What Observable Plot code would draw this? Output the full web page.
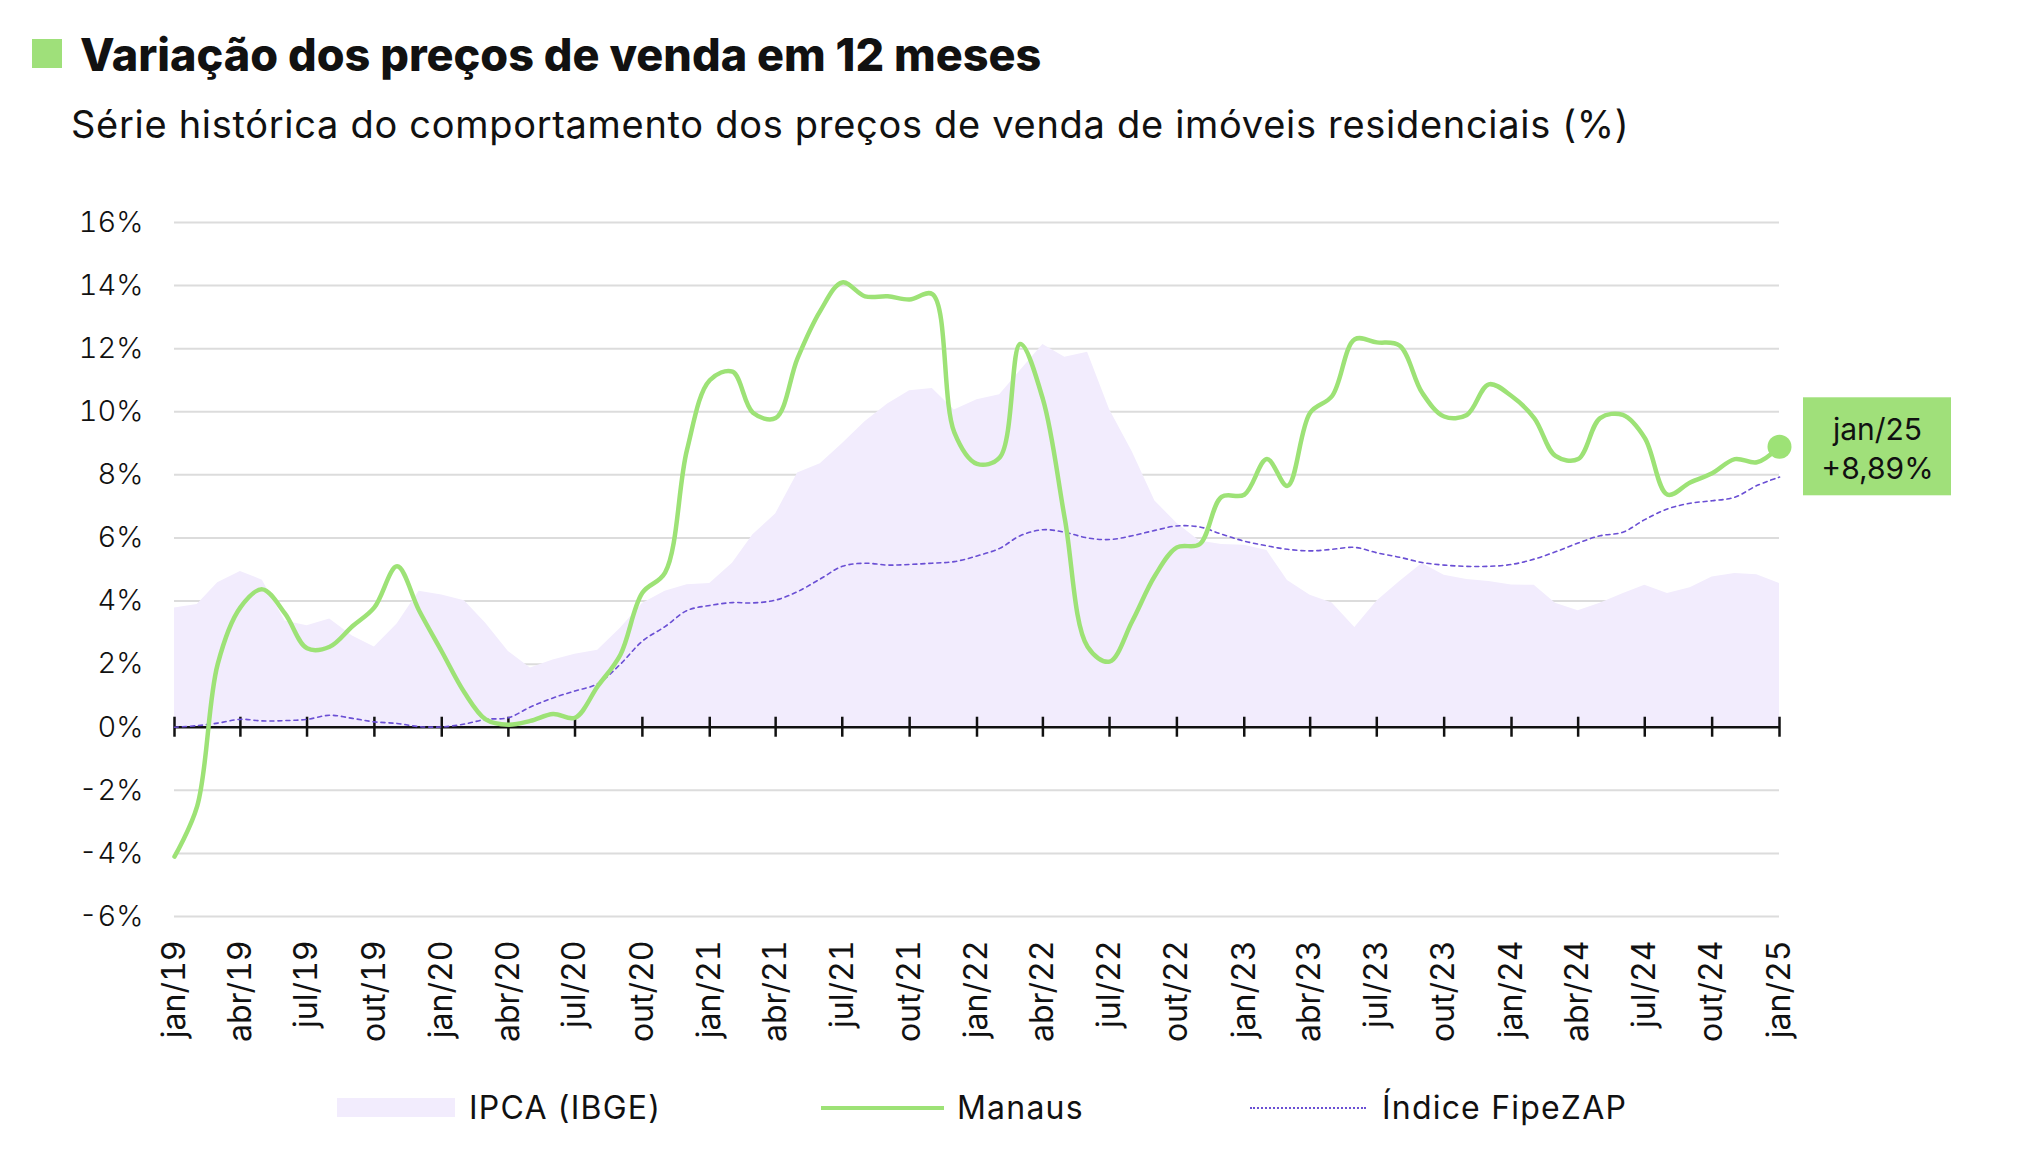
<!DOCTYPE html>
<html>
<head>
<meta charset="utf-8">
<script src="https://cdn.jsdelivr.net/npm/d3@7"></script>
<script src="https://cdn.jsdelivr.net/npm/@observablehq/plot@0.6"></script>
<style>
  body { margin: 0; background: #fff; font-family: Inter, "Noto Sans", sans-serif; color: #111; }
  #page { position: relative; width: 2020px; height: 1160px; }
  #header { position: relative; height: 150px; }
  #sq { position: absolute; left: 32px; top: 39px; width: 30px; height: 29px; background: #9fe07a; }
  #title { position: absolute; left: 80px; top: 32px; font-size: 45px; line-height: 1; font-weight: 800; white-space: nowrap; }
  #subtitle { position: absolute; left: 71px; top: 105px; font-size: 38px; letter-spacing: 0.7px; line-height: 1; font-weight: 400; white-space: nowrap; }
  #chart svg { display: block; }
  #legend { position: relative; height: 100px; }
  .lg-key { position: absolute; }
  .lg-text { position: absolute; font-size: 32px; letter-spacing: 1.2px; line-height: 1; top: 32px; white-space: nowrap; }
</style>
</head>
<body>
<div id="page">
  <div id="header">
    <div id="sq"></div>
    <div id="title">Variação dos preços de venda em 12 meses</div>
    <div id="subtitle">Série histórica do comportamento dos preços de venda de imóveis residenciais (%)</div>
  </div>
  <div id="chart"></div>
  <div id="legend"></div>
</div>
<script>
const months = [
  "2019-01","2019-02","2019-03","2019-04","2019-05","2019-06","2019-07","2019-08","2019-09","2019-10","2019-11","2019-12",
  "2020-01","2020-02","2020-03","2020-04","2020-05","2020-06","2020-07","2020-08","2020-09","2020-10","2020-11","2020-12",
  "2021-01","2021-02","2021-03","2021-04","2021-05","2021-06","2021-07","2021-08","2021-09","2021-10","2021-11","2021-12",
  "2022-01","2022-02","2022-03","2022-04","2022-05","2022-06","2022-07","2022-08","2022-09","2022-10","2022-11","2022-12",
  "2023-01","2023-02","2023-03","2023-04","2023-05","2023-06","2023-07","2023-08","2023-09","2023-10","2023-11","2023-12",
  "2024-01","2024-02","2024-03","2024-04","2024-05","2024-06","2024-07","2024-08","2024-09","2024-10","2024-11","2024-12",
  "2025-01"
];

const ipca = [
  3.78, 3.89, 4.58, 4.94, 4.66, 3.37, 3.22, 3.43, 2.89, 2.54, 3.27, 4.31,
  4.19, 4.01, 3.30, 2.40, 1.88, 2.13, 2.31, 2.44, 3.14, 3.92, 4.31, 4.52,
  4.56, 5.20, 6.10, 6.76, 8.06, 8.35, 8.99, 9.68, 10.25, 10.67, 10.74, 10.06,
  10.38, 10.54, 11.30, 12.13, 11.73, 11.89, 10.07, 8.73, 7.17, 6.47, 5.90, 5.79,
  5.77, 5.60, 4.65, 4.18, 3.94, 3.16, 3.99, 4.61, 5.19, 4.82, 4.68, 4.62,
  4.51, 4.50, 3.93, 3.69, 3.93, 4.23, 4.50, 4.24, 4.42, 4.76, 4.87, 4.83,
  4.56
];

const manaus = [
  -4.10, -2.50, 2.00, 3.80, 4.37, 3.60, 2.50, 2.55, 3.20, 3.80, 5.10, 3.70,
  2.40, 1.10, 0.25, 0.08, 0.20, 0.42, 0.30, 1.30, 2.30, 4.26, 4.90, 8.80,
  11.00, 11.27, 9.97, 9.80, 11.70, 13.20, 14.10, 13.66, 13.66, 13.56, 13.73, 9.35,
  8.35, 8.55, 12.15, 10.40, 6.60, 2.55, 2.08, 3.36, 4.80, 5.70, 5.80, 7.30,
  7.37, 8.50, 7.65, 9.97, 10.50, 12.30, 12.20, 12.10, 10.60, 9.85, 9.90, 10.87,
  10.50, 9.80, 8.60, 8.50, 9.80, 9.90, 9.17, 7.37, 7.76, 8.05, 8.50, 8.40,
  8.89
];

const fipezap = [
  0.00, 0.05, 0.13, 0.25, 0.20, 0.21, 0.25, 0.38, 0.28, 0.17, 0.12, 0.02,
  0.01, 0.10, 0.25, 0.30, 0.64, 0.93, 1.15, 1.38, 2.00, 2.73, 3.19, 3.70,
  3.86, 3.95, 3.94, 4.03, 4.30, 4.70, 5.10, 5.20, 5.14, 5.16, 5.20, 5.25,
  5.43, 5.67, 6.07, 6.26, 6.18, 6.00, 5.95, 6.07, 6.24, 6.38, 6.35, 6.12,
  5.90, 5.75, 5.64, 5.59, 5.64, 5.70, 5.53, 5.39, 5.22, 5.14, 5.10, 5.10,
  5.16, 5.33, 5.56, 5.84, 6.07, 6.18, 6.58, 6.92, 7.10, 7.18, 7.29, 7.66,
  7.93
];

const tickMonths = [
  "2019-01","2019-04","2019-07","2019-10","2020-01","2020-04","2020-07","2020-10",
  "2021-01","2021-04","2021-07","2021-10","2022-01","2022-04","2022-07","2022-10",
  "2023-01","2023-04","2023-07","2023-10","2024-01","2024-04","2024-07","2024-10","2025-01"
];
const tickLabels = [
  "jan/19","abr/19","jul/19","out/19","jan/20","abr/20","jul/20","out/20",
  "jan/21","abr/21","jul/21","out/21","jan/22","abr/22","jul/22","out/22",
  "jan/23","abr/23","jul/23","out/23","jan/24","abr/24","jul/24","out/24","jan/25"
];
const yTicks = [-6, -4, -2, 0, 2, 4, 6, 8, 10, 12, 14, 16];
const seriesNames = ["IPCA (IBGE)", "Manaus", "Índice FipeZAP"];
const lastLabel = "jan/25";
const lastValueText = "+8,89%";

const colors = { ipca: "#f2ecfd", manaus: "#9de276", fipe: "#6a4fd4", box: "#a0e07a", grid: "#dcdcdc", axis: "#111" };

const parse = d3.utcParse("%Y-%m");
const data = months.map((m, i) => ({ date: parse(m), ipca: ipca[i], manaus: manaus[i], fipe: fipezap[i] }));
const tickDates = tickMonths.map(parse);
const labelOf = new Map(tickMonths.map((m, i) => [+parse(m), tickLabels[i]]));
const last = data[data.length - 1];

const chart = Plot.plot({
  width: 2020,
  height: 910,
  marginTop: 72,
  marginBottom: 144,
  marginLeft: 174,
  marginRight: 241,
  style: { fontFamily: "Inter, 'Noto Sans', sans-serif", background: "transparent", color: "#111" },
  x: { type: "utc", domain: [tickDates[0], tickDates[tickDates.length - 1]] },
  y: { domain: [-6, 16] },
  marks: [
    Plot.ruleY(yTicks.filter(v => v !== 0), { stroke: colors.grid, strokeWidth: 2 }),
    Plot.areaY(data, { x: "date", y: "ipca", fill: colors.ipca }),
    Plot.ruleY([0], { stroke: colors.axis, strokeWidth: 2.5 }),
    Plot.ruleX(tickDates, { x: d => d, y1: 0, y2: 0, insetTop: -10, insetBottom: -10, stroke: colors.axis, strokeWidth: 2.5 }),
    Plot.line(data, { x: "date", y: "fipe", stroke: colors.fipe, strokeWidth: 1.6, strokeDasharray: "4,4", curve: "catmull-rom" }),
    Plot.line(data, { x: "date", y: "manaus", stroke: colors.manaus, strokeWidth: 4.5, curve: "catmull-rom" }),
    Plot.dot([last], { x: "date", y: "manaus", r: 12, fill: colors.manaus }),
    Plot.rect([last], { x1: "date", x2: "date", y1: "manaus", y2: "manaus", insetLeft: -74, insetRight: -74, insetTop: -49, insetBottom: -49, dx: 98, fill: colors.box }),
    Plot.text([last], { x: "date", y: "manaus", dx: 98, text: () => `${lastLabel}\n${lastValueText}`, fontSize: 30, lineHeight: 1.33, fill: "#111" }),
    Plot.axisY(yTicks, { tickSize: 0, tickPadding: 31, tickFormat: d => `${d}%`, fontSize: 29, fontWeight: 300, label: null }),
    Plot.axisX(tickDates, { anchor: "bottom", tickSize: 0, tickPadding: 24, tickRotate: -90, tickFormat: d => labelOf.get(+d), fontSize: 32, label: null })
  ]
});
document.getElementById("chart").appendChild(chart);

// Legend
const legend = document.getElementById("legend");
const keys = [
  { x: 337, textX: 469, html: `<div style="width:118px;height:19px;background:${colors.ipca}"></div>`, top: 38 },
  { x: 821, textX: 957, html: `<div style="width:123px;height:4px;background:${colors.manaus}"></div>`, top: 46 },
  { x: 1250, textX: 1382, html: `<div style="width:116px;border-top:2px dotted ${colors.fipe}"></div>`, top: 47 }
];
keys.forEach((k, i) => {
  const key = document.createElement("div");
  key.className = "lg-key";
  key.style.left = k.x + "px";
  key.style.top = k.top + "px";
  key.innerHTML = k.html;
  legend.appendChild(key);
  const t = document.createElement("div");
  t.className = "lg-text";
  t.style.left = k.textX + "px";
  t.textContent = seriesNames[i];
  legend.appendChild(t);
});
</script>
</body>
</html>
